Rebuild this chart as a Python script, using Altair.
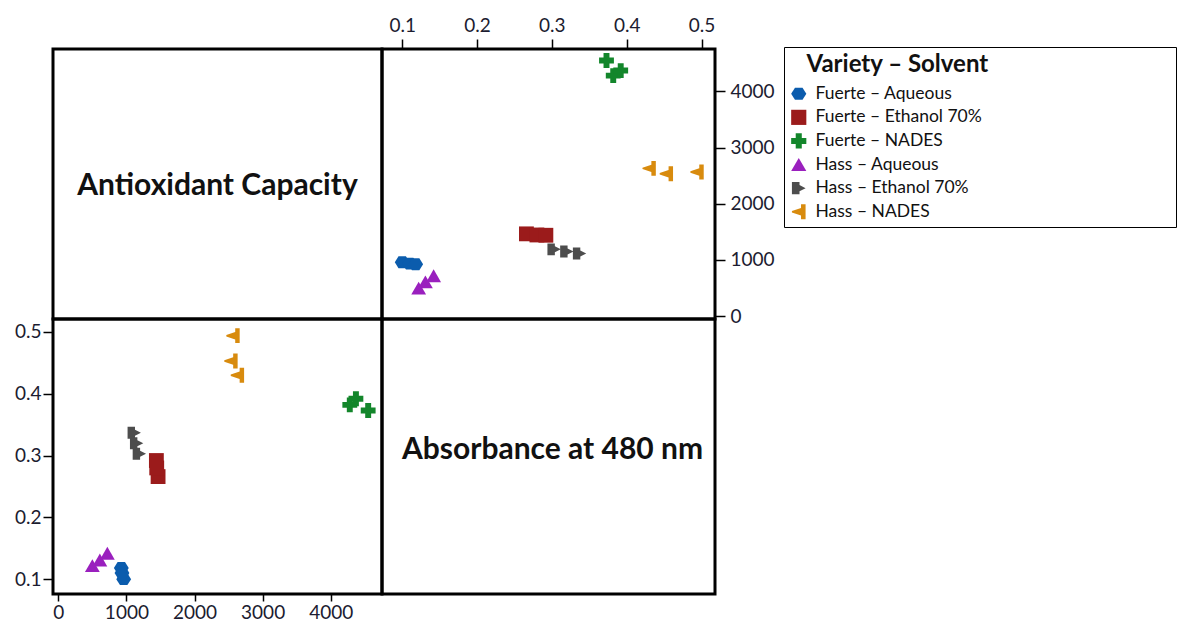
import altair as alt
import pandas as pd

# ---- data ----
groups = ["Fuerte – Aqueous", "Fuerte – Ethanol 70%", "Fuerte – NADES",
          "Hass – Aqueous", "Hass – Ethanol 70%", "Hass – NADES"]
antiox_fa = [960, 935, 925]
absorb_fa = [0.100, 0.110, 0.118]
antiox_fe = [1465, 1445, 1440]
absorb_fe = [0.266, 0.280, 0.292]
antiox_fn = [4550, 4280, 4370]
absorb_fn = [0.373, 0.382, 0.392]
antiox_ha = [500, 610, 720]
absorb_ha = [0.122, 0.131, 0.142]
antiox_he = [1190, 1150, 1115]
absorb_he = [0.303, 0.320, 0.337]
antiox_hn = [2630, 2535, 2565]
absorb_hn = [0.430, 0.453, 0.494]

colors = ["#0B5CAD", "#9B1B1B", "#13862B", "#9A20BE", "#4D4D4D", "#D88B0E"]
shapes = [
    "M-1,0L-0.5,-0.8L0.5,-0.8L1,0L0.5,0.8L-0.5,0.8Z",
    "square",
    "cross",
    "triangle-up",
    "M-0.9,-0.8L0.1,-0.8L0.1,-0.4L0.9,0L0.1,0.4L0.1,0.8L-0.9,0.8Z",
    "M0.9,-1L0.9,1L0.3,1L0.3,0.5L-0.9,0.1L-0.9,-0.1L0.3,-0.5L0.3,-1Z",
]

abs_ticks = [0.1, 0.2, 0.3, 0.4, 0.5]
ant_ticks = [0, 1000, 2000, 3000, 4000]
label_top_left = "Antioxidant Capacity"
label_bottom_right = "Absorbance at 480 nm"
legend_title = "\u200b" + "\u00a0" * 3 + "Variety – Solvent" + "\u00a0" * 31 + "\u200b"

antiox_all = [antiox_fa, antiox_fe, antiox_fn, antiox_ha, antiox_he, antiox_hn]
absorb_all = [absorb_fa, absorb_fe, absorb_fn, absorb_ha, absorb_he, absorb_hn]
rows = []
for g, alist, blist in zip(groups, antiox_all, absorb_all):
    for a, b in zip(alist, blist):
        rows.append({"group": g, "antiox": a, "absorb": b})
df = pd.DataFrame(rows)

FONT = "Lato"
W1, W2 = 329, 333
H1, H2 = 270, 275

legend = alt.Legend(
    title=legend_title, orient="none", legendX=731, legendY=-2,
    titleFont=FONT, titleFontSize=24, titleFontWeight="bold", titleColor="#111",
    titleLimit=1000, labelLimit=1000,
    labelFont=FONT, labelFontSize=17.5, labelColor="#111",
    symbolSize=230, symbolStrokeWidth=0, rowPadding=4.6,
    strokeColor="black", fillColor="white", padding=6, titlePadding=8,
    labelOffset=8, symbolOpacity=1,
)
color = alt.Color("group:N", scale=alt.Scale(domain=groups, range=colors), legend=legend)
shape = alt.Shape("group:N", scale=alt.Scale(domain=groups, range=shapes), legend=legend)

pts = dict(filled=True, size=220, opacity=1, strokeWidth=0)

tr = alt.Chart(df).mark_point(**pts).encode(
    x=alt.X("absorb:Q", scale=alt.Scale(domain=[0.073, 0.518], nice=False, zero=False),
            axis=alt.Axis(orient="top", values=abs_ticks, format=".1f", title=None,
                          domain=False, grid=False, tickSize=10, labelPadding=4)),
    y=alt.Y("antiox:Q", scale=alt.Scale(domain=[-50, 4754], nice=False, zero=False),
            axis=alt.Axis(orient="right", values=ant_ticks, format="d", title=None,
                          domain=False, grid=False, tickSize=10, labelPadding=5)),
    color=color, shape=shape,
).properties(width=W2, height=H1)

bl = alt.Chart(df).mark_point(**pts).encode(
    x=alt.X("antiox:Q", scale=alt.Scale(domain=[-78, 4753], nice=False, zero=False),
            axis=alt.Axis(orient="bottom", values=ant_ticks, format="d", title=None,
                          domain=False, grid=False, tickSize=7, labelPadding=2)),
    y=alt.Y("absorb:Q", scale=alt.Scale(domain=[0.076, 0.521], nice=False, zero=False),
            axis=alt.Axis(orient="left", values=abs_ticks, format=".1f", title=None,
                          domain=False, grid=False, tickSize=10, labelPadding=2)),
    color=color, shape=shape,
).properties(width=W1, height=H2)

tl = alt.Chart(pd.DataFrame({"t": [label_top_left]})).mark_text(
    font=FONT, fontSize=30, fontWeight="bold", color="#111"
).encode(text="t:N", x=alt.value(W1 / 2), y=alt.value(H1 / 2 + 2)).properties(width=W1, height=H1)

br = alt.Chart(pd.DataFrame({"t": [label_bottom_right]})).mark_text(
    font=FONT, fontSize=30, fontWeight="bold", color="#111"
).encode(text="t:N", x=alt.value(W2 / 2 + 4), y=alt.value(H2 / 2 - 7)).properties(width=W2, height=H2)

chart = alt.concat(
    tl, tr, bl, br, columns=2, spacing=0, bounds="flush", align="each"
).properties(
    padding={"left": 12, "top": 14, "right": 0, "bottom": 2}
).configure_view(
    stroke="black", strokeWidth=3
).configure_axis(
    labelFont=FONT, labelFontSize=19, labelColor="#1c1c30",
    tickColor="black", tickWidth=1.5,
)

chart.save("out.html", embed_options={"renderer": "svg", "actions": False})
